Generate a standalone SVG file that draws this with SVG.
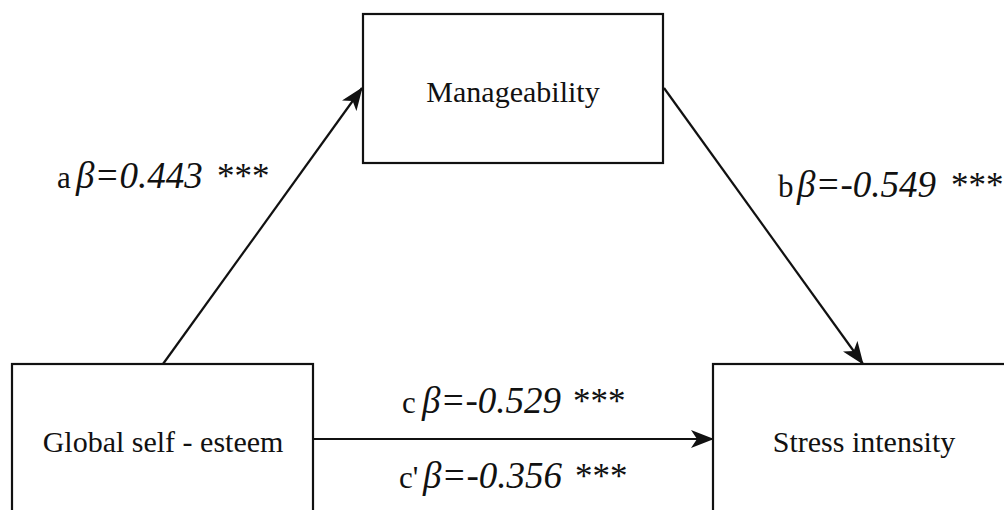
<svg xmlns="http://www.w3.org/2000/svg" width="1004" height="510" viewBox="0 0 1004 510">
<style>
.box{fill:#fff;stroke:#111;stroke-width:2.2}
.name{font-family:"Liberation Serif","Times New Roman",serif;font-size:30px;fill:#111;text-anchor:middle}
.lbl{font-family:"Liberation Serif","Times New Roman",serif;font-size:31px;fill:#111}
.it{font-style:italic;font-size:37px}
.ast{font-size:35px}
.conn{stroke:#111;stroke-width:2.2;fill:none;marker-end:url(#ah)}
</style>
<defs>
<marker id="ah" markerUnits="userSpaceOnUse" markerWidth="24" markerHeight="18" refX="22" refY="9" orient="auto">
<path d="M0,0 L23,9 L0,18 L6,9 z" fill="#111"/>
</marker>
</defs>
<rect width="1004" height="510" fill="#fff"/>
<g id="connectors">
<line class="conn" x1="163" y1="364" x2="362" y2="88"/>
<line class="conn" x1="664" y1="88" x2="863" y2="364"/>
<line class="conn" x1="313" y1="439" x2="713" y2="439"/>
</g>
<g id="node-manageability">
<rect class="box" x="363" y="14" width="300" height="149"/>
<text class="name" x="513" y="102">Manageability</text>
</g>
<g id="node-global">
<rect class="box" x="12" y="364" width="301" height="170"/>
<text class="name" x="163" y="452">Global self - esteem</text>
</g>
<g id="node-stress">
<rect class="box" x="713" y="364" width="320" height="170"/>
<text class="name" x="864" y="452">Stress intensity</text>
</g>
<g id="labels">
<text class="lbl" y="188"><tspan x="57">a</tspan><tspan class="it" x="76">β=0.443</tspan><tspan class="ast" x="217">***</tspan></text>
<text class="lbl" y="197"><tspan x="778">b</tspan><tspan class="it" x="797">β=-0.549</tspan><tspan class="ast" x="951">***</tspan></text>
<text class="lbl" y="413"><tspan x="402">c</tspan><tspan class="it" x="422">β=-0.529</tspan><tspan class="ast" x="573">***</tspan></text>
<text class="lbl" y="488"><tspan x="399">c'</tspan><tspan class="it" x="423">β=-0.356</tspan><tspan class="ast" x="575">***</tspan></text>
</g>
</svg>
